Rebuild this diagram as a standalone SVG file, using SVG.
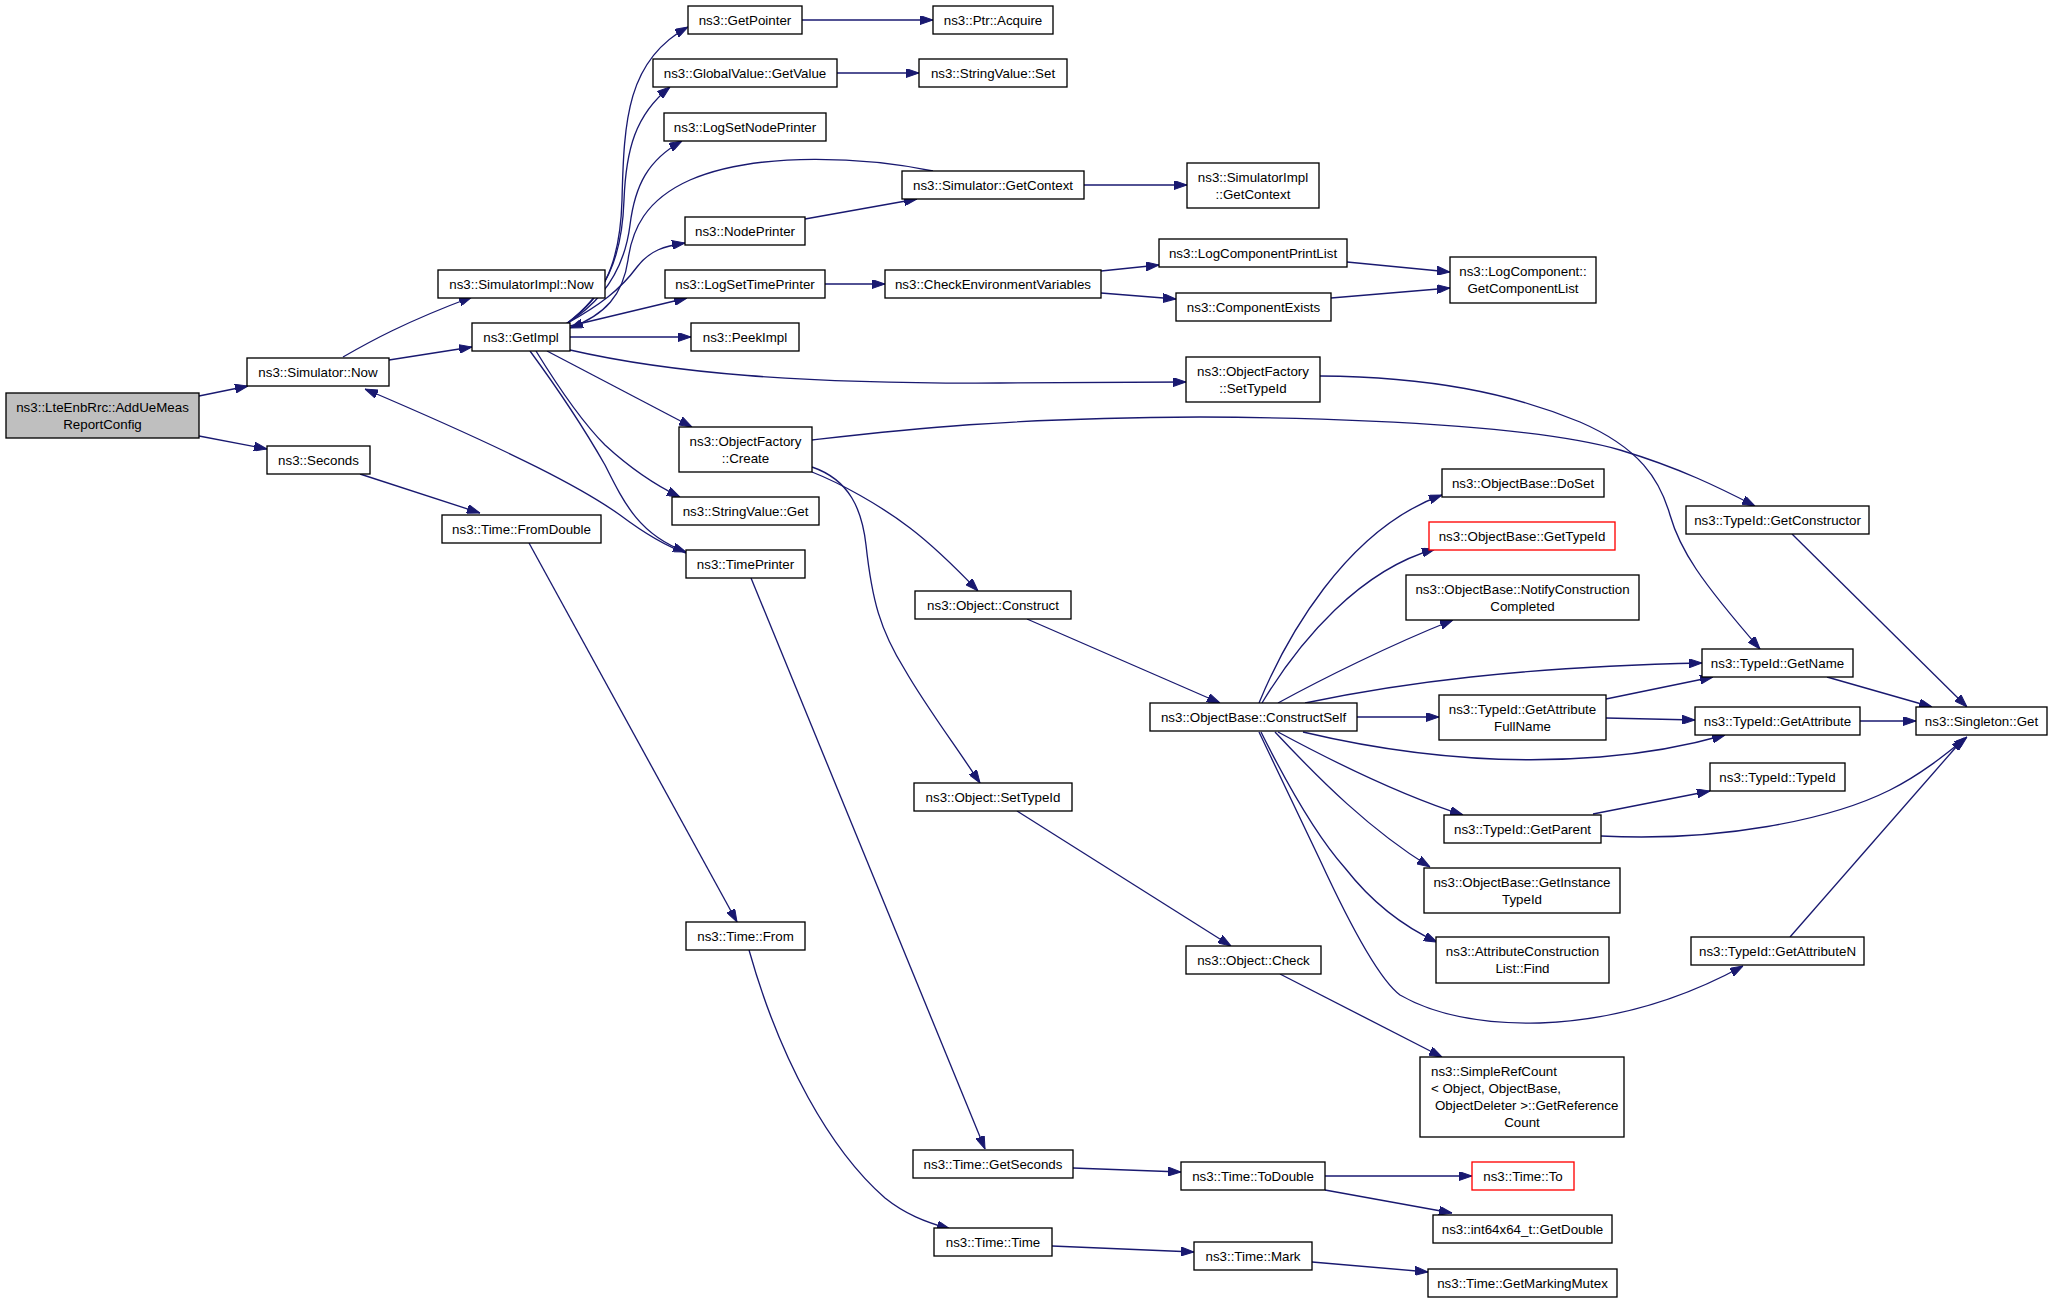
<svg xmlns="http://www.w3.org/2000/svg" width="2069" height="1303" viewBox="0 0 2069 1303">
<style>
.node rect{fill:#ffffff;stroke:#000000;stroke-width:1.33}
.node.root rect{fill:#bfbfbf}
.node.red rect{stroke:#ff0000}
.node text{font-family:"Liberation Sans",Arial,Helvetica,sans-serif;font-size:13.33px;fill:#000000;text-anchor:middle}
.node text.l{text-anchor:start}
.edges path{fill:none;stroke:#191970;stroke-width:1.33;marker-end:url(#arr)}
</style>
<defs>
<marker id="arr" viewBox="0 0 13 9" refX="13" refY="4.5" markerWidth="13" markerHeight="9" markerUnits="userSpaceOnUse" orient="auto">
<path d="M0,0 L13,4.5 L0,9 Z" fill="#191970" stroke="#191970" stroke-width="1"/>
</marker>
</defs>
<rect x="0" y="0" width="2069" height="1303" fill="#ffffff"/>
<g id="edges" class="edges">
<path d="M199,396 L248,386"/>
<path d="M199,436 L267,449"/>
<path d="M343,357 C369,342 405,322 472,297"/>
<path d="M389,360 L472,347"/>
<path d="M686,553 C662,545 640,530 620,515 C585,490 520,455 365,389"/>
<path d="M530,351 C555,385 585,430 605,465 C625,505 640,535 686,552"/>
<path d="M536,351 C560,390 585,425 605,445 C630,468 655,485 680,497"/>
<path d="M547,351 L692,427"/>
<path d="M570,350 C670,373 800,384 1000,383 L1186,382"/>
<path d="M570,337 L691,337"/>
<path d="M570,326 L687,298"/>
<path d="M566,324 C600,305 620,290 637,267 C650,250 665,246 685,243"/>
<path d="M933,171 C870,158 760,150 690,180 C645,200 632,230 628,260 C623,295 605,315 570,328"/>
<path d="M566,324 C605,300 625,265 630,225 C635,185 648,160 682,141"/>
<path d="M566,324 C605,295 622,260 624,200 C626,150 635,115 670,87"/>
<path d="M566,324 C600,300 620,270 622,200 C624,120 627,60 688,27"/>
<path d="M802,20 L933,20"/>
<path d="M837,73 L919,73"/>
<path d="M805,219 L917,199"/>
<path d="M1084,185 L1187,185"/>
<path d="M825,284 L885,284"/>
<path d="M1101,271 L1159,265"/>
<path d="M1101,293 L1176,299"/>
<path d="M1347,262 L1450,272"/>
<path d="M1331,298 L1450,288"/>
<path d="M1320,376 C1430,377 1510,393 1580,422 C1640,448 1660,480 1670,515 C1680,550 1700,580 1760,649"/>
<path d="M812,440 C900,430 1000,418 1200,417 C1400,418 1550,430 1620,450 C1680,468 1720,488 1755,506"/>
<path d="M812,472 C840,483 880,505 910,528 C935,547 955,567 978,591"/>
<path d="M812,467 C850,480 862,510 866,545 C872,600 880,630 905,670 C925,705 955,745 980,783"/>
<path d="M1027,619 L1220,703"/>
<path d="M1017,811 L1231,946"/>
<path d="M1280,974 L1442,1057"/>
<path d="M1259,703 C1285,640 1345,530 1442,495"/>
<path d="M1262,703 C1300,640 1360,570 1435,549"/>
<path d="M1278,703 C1320,680 1390,645 1453,620"/>
<path d="M1305,703 C1400,683 1520,667 1702,663"/>
<path d="M1357,717 L1439,717"/>
<path d="M1303,732 C1400,755 1500,765 1600,757 C1650,753 1690,745 1725,735"/>
<path d="M1278,732 C1330,760 1400,795 1463,815"/>
<path d="M1275,732 C1320,780 1370,830 1430,867"/>
<path d="M1261,732 C1290,790 1320,840 1345,868 C1370,900 1400,925 1437,942"/>
<path d="M1259,732 L1320,860 C1350,925 1380,980 1400,995 C1440,1018 1490,1024 1540,1023 C1620,1020 1690,995 1743,966"/>
<path d="M1606,699 L1713,677"/>
<path d="M1606,718 L1695,720"/>
<path d="M1593,814 L1710,791"/>
<path d="M1601,836 C1720,842 1830,820 1890,790 C1920,775 1945,755 1967,737"/>
<path d="M1827,677 L1932,707"/>
<path d="M1860,721 L1916,721"/>
<path d="M1792,534 L1967,707"/>
<path d="M1790,937 L1964,738"/>
<path d="M360,474 L480,513"/>
<path d="M529,543 L737,922"/>
<path d="M751,578 L985,1149"/>
<path d="M749,950 C780,1060 830,1150 885,1198 C905,1214 925,1222 950,1229"/>
<path d="M1073,1168 L1181,1172"/>
<path d="M1325,1176 L1472,1176"/>
<path d="M1325,1190 L1452,1213"/>
<path d="M1052,1246 L1194,1252"/>
<path d="M1312,1262 L1428,1272"/>
</g>
<g id="n_AddUeMeasReportConfig" class="node root"><rect x="6" y="393" width="193" height="45"/><text x="102.5" y="411.5">ns3::LteEnbRrc::AddUeMeas</text><text x="102.5" y="428.5">ReportConfig</text></g>
<g id="n_SimulatorNow" class="node"><rect x="247" y="358" width="142" height="28"/><text x="318" y="376.5">ns3::Simulator::Now</text></g>
<g id="n_SimulatorImplNow" class="node"><rect x="438" y="270" width="167" height="28"/><text x="521.5" y="288.5">ns3::SimulatorImpl::Now</text></g>
<g id="n_GetImpl" class="node"><rect x="472" y="323" width="98" height="28"/><text x="521" y="341.5">ns3::GetImpl</text></g>
<g id="n_Seconds" class="node"><rect x="267" y="446" width="103" height="28"/><text x="318.5" y="464.5">ns3::Seconds</text></g>
<g id="n_FromDouble" class="node"><rect x="442" y="515" width="159" height="28"/><text x="521.5" y="533.5">ns3::Time::FromDouble</text></g>
<g id="n_GetPointer" class="node"><rect x="688" y="6" width="114" height="28"/><text x="745" y="24.5">ns3::GetPointer</text></g>
<g id="n_PtrAcquire" class="node"><rect x="933" y="6" width="120" height="28"/><text x="993" y="24.5">ns3::Ptr::Acquire</text></g>
<g id="n_GlobalValueGetValue" class="node"><rect x="653" y="59" width="184" height="28"/><text x="745" y="77.5">ns3::GlobalValue::GetValue</text></g>
<g id="n_StringValueSet" class="node"><rect x="919" y="59" width="148" height="28"/><text x="993" y="77.5">ns3::StringValue::Set</text></g>
<g id="n_LogSetNodePrinter" class="node"><rect x="664" y="113" width="162" height="28"/><text x="745" y="131.5">ns3::LogSetNodePrinter</text></g>
<g id="n_SimulatorGetContext" class="node"><rect x="902" y="171" width="182" height="28"/><text x="993" y="189.5">ns3::Simulator::GetContext</text></g>
<g id="n_SimulatorImplGetContext" class="node"><rect x="1187" y="163" width="132" height="45"/><text x="1253" y="181.5">ns3::SimulatorImpl</text><text x="1253" y="198.5">::GetContext</text></g>
<g id="n_NodePrinter" class="node"><rect x="685" y="217" width="120" height="28"/><text x="745" y="235.5">ns3::NodePrinter</text></g>
<g id="n_LogSetTimePrinter" class="node"><rect x="665" y="270" width="160" height="28"/><text x="745" y="288.5">ns3::LogSetTimePrinter</text></g>
<g id="n_CheckEnvironmentVariables" class="node"><rect x="885" y="270" width="216" height="28"/><text x="993" y="288.5">ns3::CheckEnvironmentVariables</text></g>
<g id="n_PeekImpl" class="node"><rect x="691" y="323" width="108" height="28"/><text x="745" y="341.5">ns3::PeekImpl</text></g>
<g id="n_LogComponentPrintList" class="node"><rect x="1159" y="239" width="188" height="28"/><text x="1253" y="257.5">ns3::LogComponentPrintList</text></g>
<g id="n_ComponentExists" class="node"><rect x="1176" y="293" width="155" height="28"/><text x="1253.5" y="311.5">ns3::ComponentExists</text></g>
<g id="n_GetComponentList" class="node"><rect x="1450" y="257" width="146" height="46"/><text x="1523" y="276">ns3::LogComponent::</text><text x="1523" y="293">GetComponentList</text></g>
<g id="n_ObjectFactorySetTypeId" class="node"><rect x="1186" y="357" width="134" height="45"/><text x="1253" y="375.5">ns3::ObjectFactory</text><text x="1253" y="392.5">::SetTypeId</text></g>
<g id="n_ObjectFactoryCreate" class="node"><rect x="679" y="427" width="133" height="45"/><text x="745.5" y="445.5">ns3::ObjectFactory</text><text x="745.5" y="462.5">::Create</text></g>
<g id="n_StringValueGet" class="node"><rect x="672" y="497" width="147" height="28"/><text x="745.5" y="515.5">ns3::StringValue::Get</text></g>
<g id="n_TimePrinter" class="node"><rect x="686" y="550" width="119" height="28"/><text x="745.5" y="568.5">ns3::TimePrinter</text></g>
<g id="n_ObjectConstruct" class="node"><rect x="915" y="591" width="156" height="28"/><text x="993" y="609.5">ns3::Object::Construct</text></g>
<g id="n_ObjectSetTypeId" class="node"><rect x="914" y="783" width="158" height="28"/><text x="993" y="801.5">ns3::Object::SetTypeId</text></g>
<g id="n_TimeFrom" class="node"><rect x="686" y="922" width="119" height="28"/><text x="745.5" y="940.5">ns3::Time::From</text></g>
<g id="n_TimeGetSeconds" class="node"><rect x="913" y="1150" width="160" height="28"/><text x="993" y="1168.5">ns3::Time::GetSeconds</text></g>
<g id="n_TimeTime" class="node"><rect x="934" y="1228" width="118" height="28"/><text x="993" y="1246.5">ns3::Time::Time</text></g>
<g id="n_ObjectBaseDoSet" class="node"><rect x="1442" y="469" width="162" height="28"/><text x="1523" y="487.5">ns3::ObjectBase::DoSet</text></g>
<g id="n_ObjectBaseGetTypeId" class="node red"><rect x="1429" y="522" width="186" height="28"/><text x="1522" y="540.5">ns3::ObjectBase::GetTypeId</text></g>
<g id="n_NotifyConstructionCompleted" class="node"><rect x="1406" y="575" width="233" height="45"/><text x="1522.5" y="593.5">ns3::ObjectBase::NotifyConstruction</text><text x="1522.5" y="610.5">Completed</text></g>
<g id="n_ConstructSelf" class="node"><rect x="1150" y="703" width="207" height="28"/><text x="1253.5" y="721.5">ns3::ObjectBase::ConstructSelf</text></g>
<g id="n_GetAttributeFullName" class="node"><rect x="1439" y="695" width="167" height="45"/><text x="1522.5" y="713.5">ns3::TypeId::GetAttribute</text><text x="1522.5" y="730.5">FullName</text></g>
<g id="n_TypeIdGetParent" class="node"><rect x="1444" y="815" width="157" height="28"/><text x="1522.5" y="833.5">ns3::TypeId::GetParent</text></g>
<g id="n_GetInstanceTypeId" class="node"><rect x="1424" y="868" width="196" height="45"/><text x="1522" y="886.5">ns3::ObjectBase::GetInstance</text><text x="1522" y="903.5">TypeId</text></g>
<g id="n_AttributeConstructionListFind" class="node"><rect x="1436" y="937" width="173" height="46"/><text x="1522.5" y="956">ns3::AttributeConstruction</text><text x="1522.5" y="973">List::Find</text></g>
<g id="n_ObjectCheck" class="node"><rect x="1186" y="946" width="135" height="28"/><text x="1253.5" y="964.5">ns3::Object::Check</text></g>
<g id="n_SimpleRefCount" class="node"><rect x="1420" y="1057" width="204" height="80"/><text class="l" x="1431" y="1076">ns3::SimpleRefCount</text><text class="l" x="1431" y="1093">&lt; Object, ObjectBase,</text><text class="l" x="1435" y="1110">ObjectDeleter &gt;::GetReference</text><text x="1522" y="1127">Count</text></g>
<g id="n_TimeToDouble" class="node"><rect x="1181" y="1162" width="144" height="28"/><text x="1253" y="1180.5">ns3::Time::ToDouble</text></g>
<g id="n_TimeTo" class="node red"><rect x="1472" y="1162" width="102" height="28"/><text x="1523" y="1180.5">ns3::Time::To</text></g>
<g id="n_GetDouble" class="node"><rect x="1433" y="1215" width="179" height="28"/><text x="1522.5" y="1233.5">ns3::int64x64_t::GetDouble</text></g>
<g id="n_TimeMark" class="node"><rect x="1194" y="1242" width="118" height="28"/><text x="1253" y="1260.5">ns3::Time::Mark</text></g>
<g id="n_GetMarkingMutex" class="node"><rect x="1428" y="1269" width="189" height="28"/><text x="1522.5" y="1287.5">ns3::Time::GetMarkingMutex</text></g>
<g id="n_TypeIdGetConstructor" class="node"><rect x="1686" y="506" width="183" height="28"/><text x="1777.5" y="524.5">ns3::TypeId::GetConstructor</text></g>
<g id="n_TypeIdGetName" class="node"><rect x="1702" y="649" width="151" height="28"/><text x="1777.5" y="667.5">ns3::TypeId::GetName</text></g>
<g id="n_TypeIdGetAttribute" class="node"><rect x="1695" y="707" width="165" height="28"/><text x="1777.5" y="725.5">ns3::TypeId::GetAttribute</text></g>
<g id="n_SingletonGet" class="node"><rect x="1916" y="707" width="131" height="28"/><text x="1981.5" y="725.5">ns3::Singleton::Get</text></g>
<g id="n_TypeIdTypeId" class="node"><rect x="1710" y="763" width="135" height="28"/><text x="1777.5" y="781.5">ns3::TypeId::TypeId</text></g>
<g id="n_TypeIdGetAttributeN" class="node"><rect x="1691" y="937" width="173" height="28"/><text x="1777.5" y="955.5">ns3::TypeId::GetAttributeN</text></g>
</svg>
